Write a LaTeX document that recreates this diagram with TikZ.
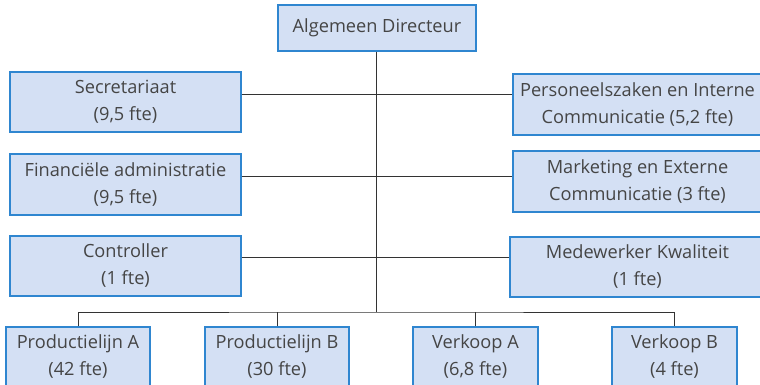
\documentclass[tikz,border=0pt]{standalone}
\usepackage{fontspec}
\setmainfont{Open Sans}
\definecolor{boxfill}{HTML}{D4E0F4}
\definecolor{boxline}{HTML}{2F86D0}
\definecolor{txt}{HTML}{454545}
\begin{document}
\begin{tikzpicture}[x=1pt,y=-1pt,
		unit/.style={draw=boxline, fill=boxfill, line width=1.2pt, text=txt, align=center,
			inner sep=0pt, font=\fontsize{18.2}{27}\selectfont},
		link/.style={draw=black!80, line width=0.9pt}]
		
		\clip (0,0) rectangle (760,384);
		
		\node[unit, minimum width=198, minimum height=46] (dir) at (377,28) {Algemeen Directeur};
		
		\node[unit, minimum width=231, minimum height=60] (sec) at (125.5,102) {Secretariaat\\(9,5 fte)};
		\node[unit, minimum width=231, minimum height=61] (fin) at (125.5,184.5) {Financiële administratie\\(9,5 fte)};
		\node[unit, minimum width=231, minimum height=60] (ctrl) at (125.5,266) {Controller\\(1 fte)};
		
		\node[unit, minimum width=249, minimum height=61] (pers) at (637.5,104.5) {Personeelszaken en Interne\\Communicatie (5,2 fte)};
		\node[unit, minimum width=249, minimum height=61] (mark) at (637.5,181.5) {Marketing en Externe\\Communicatie (3 fte)};
		\node[unit, minimum width=255, minimum height=60] (med) at (637.5,267) {Medewerker Kwaliteit\\(1 fte)};
		
		\node[unit, minimum width=144, minimum height=60] (pA) at (78,357) {Productielijn A\\(42 fte)};
		\node[unit, minimum width=144, minimum height=60] (pB) at (277,357) {Productielijn B\\(30 fte)};
		\node[unit, minimum width=125, minimum height=60] (vA) at (475.5,357) {Verkoop A\\(6,8 fte)};
		\node[unit, minimum width=125, minimum height=60] (vB) at (674.5,357) {Verkoop B\\(4 fte)};
		
		% stam en aftakkingen
		\coordinate (bus) at (376,312);
		\coordinate (l1) at (376,94);
		\coordinate (l2) at (376,176.5);
		\coordinate (l3) at (376,257);
		\draw[link] (dir.south -| bus) -- (bus);
		\draw[link] (sec.east |- l1) -- (pers.west |- l1);
		\draw[link] (fin.east |- l2) -- (mark.west |- l2);
		\draw[link] (ctrl.east |- l3) -- (med.west |- l3);
		\draw[link] (pA.north) |- (bus) -| (vB.north);
		\draw[link] (pB.north) -- (pB.north |- bus);
		\draw[link] (vA.north) -- (vA.north |- bus);
	\end{tikzpicture}
\end{document}
